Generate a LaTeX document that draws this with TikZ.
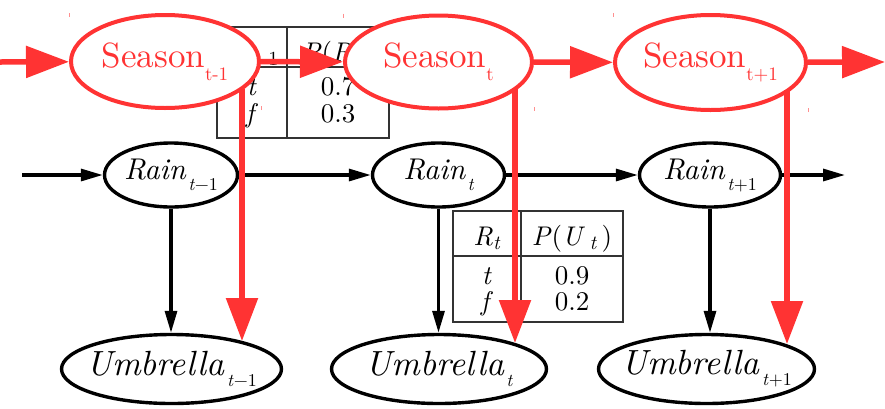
\documentclass[tikz,border=0pt]{standalone}
\usepackage{fontspec}
% Latin Modern at its 10pt design size throughout, so large text keeps wide proportions
\setmainfont{lmroman10-regular}[Extension=.otf, ItalicFont=lmroman10-italic]
\usetikzlibrary{arrows.meta,shapes.geometric,calc}

\definecolor{seasonred}{HTML}{FF3333}
\definecolor{tablegray}{HTML}{333333}

% subscripts for the node labels
\newcommand{\varsub}[1]{\hspace{2.5pt}\raisebox{-11pt}{\fontsize{18}{18}\selectfont #1}}
\newcommand{\seasonsub}[1]{\raisebox{-13pt}{\fontsize{19}{19}\selectfont #1}}
\newcommand{\cellsub}[1]{\raisebox{-4pt}{\fontsize{20}{20}\selectfont #1}}

\begin{document}
\begin{tikzpicture}[x=1pt,y=-1pt,
  hidden/.style={ellipse, draw=black, line width=3.4pt, fill=white, inner sep=0pt},
  raintext/.style={inner sep=0pt, font=\fontsize{30}{30}\selectfont\itshape},
  umbtext/.style={inner sep=0pt, font=\fontsize{35}{35}\selectfont\itshape},
  season/.style={ellipse, draw=seasonred, line width=4pt, fill=white, inner sep=0pt},
  seasontext/.style={inner sep=0pt, text=seasonred, font=\fontsize{35}{35}\selectfont},
  blackarrow/.style={draw=black, line width=3.2pt, -{Triangle[length=22pt,width=12pt]}},
  redarrow/.style={draw=seasonred, line width=5.5pt, -{Triangle[length=43pt,width=31pt]}},
  cpt/.style={draw=tablegray, line width=1.4pt},
  celltext/.style={anchor=base, inner sep=0pt, font=\fontsize{27}{27}\selectfont},
  bboxtick/.style={draw=seasonred!55, line width=1pt}]
\useasboundingbox (0,0) rectangle (885,408);

% conditional probability table P(R_t | R_{t-1})
\draw[cpt] (217,27) rectangle (389,138);
\draw[cpt] (287,27) -- (287,138);
\draw[cpt] (217,67) -- (389,67);
\node[celltext] (h1a) at (252,61) {\textit{R}\cellsub{\textit{t}−1}};
\node[celltext] (h1b) at (338,61) {\textit{P}(\textit{R}\cellsub{\textit{t}}\,)};
\node[celltext] (t1a) at (252,95) {\textit{t}};
\node[celltext] (t1b) at (338,95) {0.7};
\node[celltext] (f1a) at (252,122) {\textit{f}};
\node[celltext] (f1b) at (338,122) {0.3};

% sensor table P(U_t | R_t)
\draw[cpt] (453,211) rectangle (623,322);
\draw[cpt] (521,211) -- (521,322);
\draw[cpt] (453,256) -- (623,256);
\node[celltext] (h2a) at (487,245) {\textit{R}\cellsub{\textit{t}}};
\node[celltext] (h2b) at (572,245) {\textit{P}(\textit{U}\,\cellsub{\textit{t}}\,)};
\node[celltext] (t2a) at (487,284) {\textit{t}};
\node[celltext] (t2b) at (572,284) {0.9};
\node[celltext] (f2a) at (487,310) {\textit{f}};
\node[celltext] (f2b) at (572,310) {0.2};

% rain and umbrella chain
\node[hidden, minimum width=133pt, minimum height=64pt,
  label={[raintext]center:Rain\varsub{t\textup{−1}}}] (r1) at (171,175) {};
\node[hidden, minimum width=132pt, minimum height=64pt,
  label={[raintext]center:Rain\varsub{t}}] (r2) at (438.5,175) {};
\node[hidden, minimum width=141pt, minimum height=64pt,
  label={[raintext]center:Rain\varsub{t\textup{+1}}}] (r3) at (710,175) {};
\node[hidden, minimum width=220pt, minimum height=69pt,
  label={[umbtext]center:Umbrella\varsub{t\textup{−1}}}] (u1) at (171.5,369) {};
\node[hidden, minimum width=215pt, minimum height=69pt,
  label={[umbtext]center:Umbrella\varsub{t}}] (u2) at (439,369) {};
\node[hidden, minimum width=216pt, minimum height=69pt,
  label={[umbtext]center:Umbrella\varsub{t\textup{+1}}}] (u3) at (706.5,369) {};

\coordinate (rainin) at (22,175);
\coordinate (rainout) at (845,175);
\draw[blackarrow] (rainin) -- (r1);
\draw[blackarrow] (r1) -- (r2);
\draw[blackarrow] (r2) -- (r3);
\draw[blackarrow] (r3) -- (rainout);
\draw[blackarrow] (r1.south) -- (r1.south |- u1.north);
\draw[blackarrow] (r2.south) -- (r2.south |- u2.north);
\draw[blackarrow] (r3.south) -- (r3.south |- u3.north);

% season chain
\node[season, minimum width=188pt, minimum height=93pt,
  label={[seasontext]center:Season\seasonsub{t-1}}] (s1) at (165,61.5) {};
\node[season, minimum width=187pt, minimum height=93pt,
  label={[seasontext]center:Season\seasonsub{t}}] (s2) at (438.5,62) {};
\node[season, minimum width=191pt, minimum height=95pt,
  label={[seasontext]center:Season\seasonsub{t+1}}] (s3) at (710.5,62.5) {};

% bounding-box corner ticks of the season nodes
\foreach \s in {s1,s2,s3} {
  \draw[bboxtick] (\s.west |- \s.north) -- ++(0,4);
  \draw[bboxtick] (\s.east |- \s.south) -- ++(0,-4);
}

\coordinate (seasonin) at (0,62);
\coordinate (seasonout) at (885,62);
\draw[redarrow] (seasonin) -- (s1);
\draw[redarrow] (s1) -- (s2);
\draw[redarrow] (s2) -- (s3);
\draw[redarrow] (s3) -- (seasonout);
\draw[redarrow] ($(s1.center)+(77,27)$) -- ($(u1.center)+(70.5,-28)$);
\draw[redarrow] ($(s2.center)+(76.5,26.5)$) -- ($(u2.center)+(76,-26)$);
\draw[redarrow] ($(s3.center)+(76.5,27.5)$) -- ($(u3.center)+(80.5,-25)$);
\end{tikzpicture}
\end{document}
